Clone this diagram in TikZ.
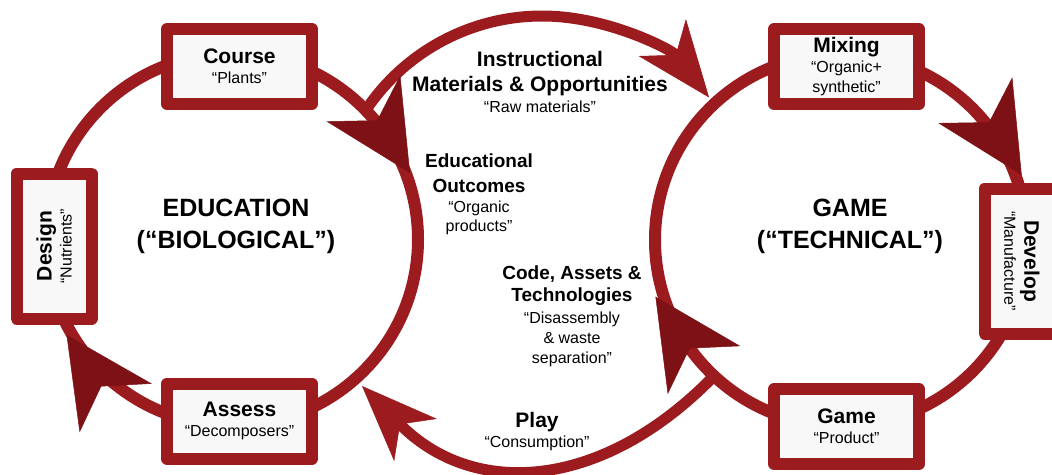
\documentclass[tikz,border=0pt]{standalone}
\usepackage{fontspec}
\setmainfont{Liberation Sans}
\usetikzlibrary{arrows.meta}

\definecolor{ringred}{HTML}{9B1B1F}
\definecolor{tipred}{HTML}{7D1115}
\definecolor{boxfill}{HTML}{F8F8F8}
\newcommand{\stagetitle}[2][21]{{\fontsize{#1}{20}\selectfont\bfseries #2}}

\begin{document}
\begin{tikzpicture}[x=1pt, y=-1pt,
	ring/.style={draw=ringred, line width=12pt},
	flow/.style={draw=ringred, line width=11pt, -{Stealth[length=76pt, width=60pt, inset=22pt, line width=0.5pt]}},
	turn/.style={draw=tipred, line width=0.5pt, -{Stealth[length=88pt, width=87pt, inset=26pt]}},
	stage/.style={draw=ringred, line width=12pt, line join=round, fill=boxfill, minimum width=145pt, minimum height=75pt, inner sep=0pt, align=center, font=\fontsize{16}{20}\selectfont},
	note/.style={align=center, font=\fontsize{16}{20}\selectfont},
	cycle/.style={align=center, font=\fontsize{25}{32}\selectfont\bfseries}]
\useasboundingbox (0,0) rectangle (1052,474);

\coordinate (edu) at (232,239.5);
\coordinate (game) at (841,240);
\coordinate (upper) at (542,228);
\coordinate (outstart) at (711,379);
\coordinate (outend) at (362,386);

% the two cycles
\draw[ring] (edu) circle[radius=186];
\draw[ring] (game) circle[radius=186];

% flows between the cycles
\draw[flow] ([shift={(-145.6:212)}]upper) arc[start angle=-145.6, end angle=-38, radius=212];
\draw[flow] (outstart) .. controls (600,491) and (473,498) .. (outend);

% arrows on the cycles
\draw[turn] ([shift={(-35.7:186.6)}]edu) -- ([shift={(-20.5:190)}]edu);
\draw[turn] ([shift={(135.1:194.1)}]edu) -- ([shift={(150:191)}]edu);
\draw[turn] ([shift={(-34.9:188.1)}]game) -- ([shift={(-19.8:192)}]game);
\draw[turn] ([shift={(148.1:186.1)}]game) -- ([shift={(163:194)}]game);

% stages
\node[stage] (course) at (239.5,66.5) {\stagetitle{Course}\\“Plants”};
\node[stage, rotate=90] (design) at (54,246) {\stagetitle{Design}\\“Nutrients”};
\node[stage] (assess) at (239.5,421) {\stagetitle{Assess}\\“Decomposers”};
\node[stage] (mixing) at (846.5,66.5) {\stagetitle{Mixing}\\“Organic+\\synthetic”};
\node[stage, rotate=-90] (develop) at (1022,261) {\stagetitle{Develop}\\“Manufacture”};
\node[stage] (product) at (846.5,426.5) {\stagetitle{Game}\\“Product”};

\node[cycle] (bio) at (236,226.5) {EDUCATION\\(“BIOLOGICAL”)};
\node[cycle] (tech) at (850,226.5) {GAME\\(“TECHNICAL”)};

\node[note] (materials) at (540,82.4) {\stagetitle{Instructional}\\[5pt]\stagetitle{Materials \& Opportunities}\\[1pt]“Raw materials”};
\node[note] (outcomes) at (479,194.7) {\stagetitle[19]{Educational}\\[5pt]\stagetitle[19]{Outcomes}\\“Organic\\[-1pt]products”};
\node[note] (assets) at (572,316.7) {\stagetitle[19]{Code, Assets \&}\\[2pt]\stagetitle[19]{Technologies}\\[2pt]“Disassembly\\\& waste\\separation”};
\node[note] (play) at (537,431.2) {\stagetitle{Play}\\“Consumption”};
\end{tikzpicture}
\end{document}
